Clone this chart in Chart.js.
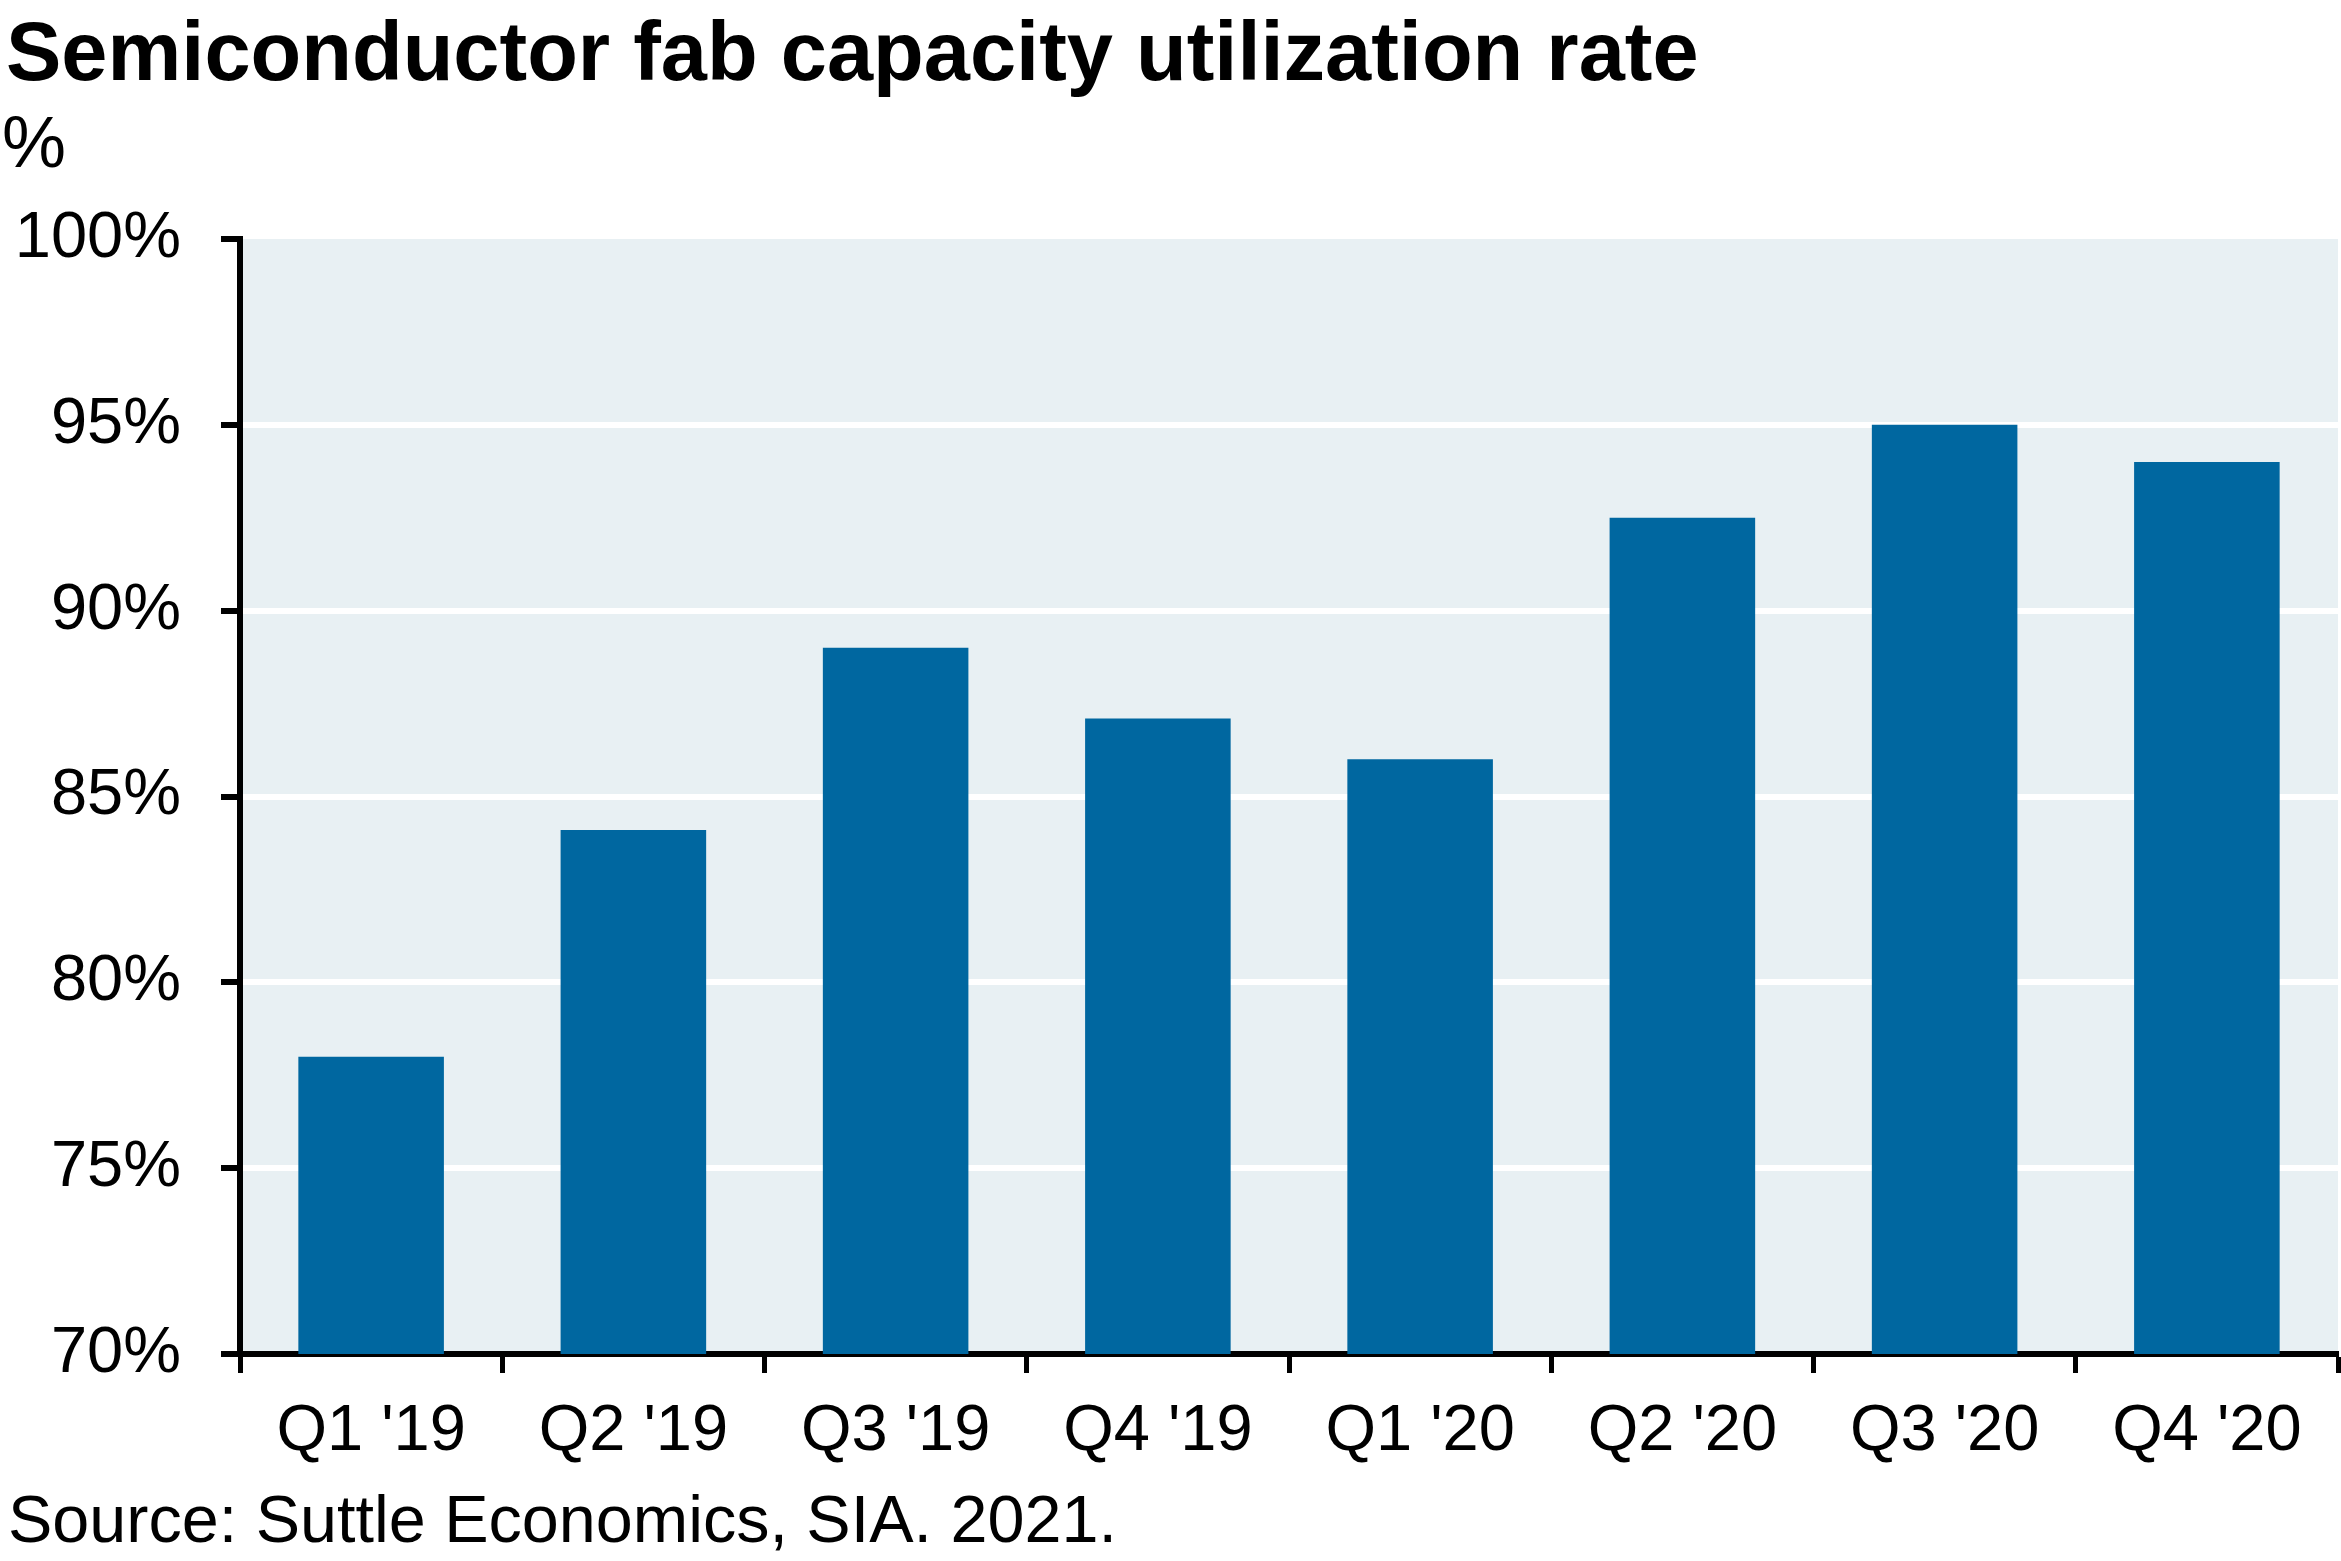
<!DOCTYPE html>
<html>
<head>
<meta charset="utf-8">
<script src="https://cdn.jsdelivr.net/npm/chart.js@4.4.1/dist/chart.umd.min.js"></script>
<style>
  html, body { margin: 0; padding: 0; background: #fff; }
  #wrap { width: 2341px; height: 1561px; }
</style>
</head>
<body>
<div id="wrap"><canvas id="fab_chart" width="2341" height="1561"></canvas></div>
<script>
const quarters = ["Q1 '19", "Q2 '19", "Q3 '19", "Q4 '19", "Q1 '20", "Q2 '20", "Q3 '20", "Q4 '20"];
const utilization = [78, 84.1, 89, 87.1, 86, 92.5, 95, 94];
const titleText = "Semiconductor fab capacity utilization rate";
const unitText = "%";
const sourceText = "Source: Suttle Economics, SIA. 2021.";

const FONT = "'Liberation Sans', Arial, Helvetica, sans-serif";

// light blue panel behind the bars
const panelBg = {
  id: 'panelBg',
  beforeDraw(chart) {
    const a = chart.chartArea;
    const c = chart.ctx;
    c.save();
    c.fillStyle = '#e8f0f3';
    c.fillRect(a.left, a.top, a.right - a.left, a.bottom - a.top);
    c.restore();
  }
};

// title, unit and source lines
const texts = {
  id: 'texts',
  afterDraw(chart) {
    const c = chart.ctx;
    c.save();
    c.fillStyle = '#000';
    c.textBaseline = 'alphabetic';
    c.textAlign = 'left';
    c.font = 'bold 83px ' + FONT;
    c.fillText(titleText, 6, 80);
    c.font = '72px ' + FONT;
    c.fillText(unitText, 2, 167);
    c.font = '66.5px ' + FONT;
    c.fillText(sourceText, 8, 1542);
    c.restore();
  }
};

const ctx = document.getElementById('fab_chart').getContext('2d');
const fab_chart = new Chart(ctx, {
  type: 'bar',
  data: {
    labels: quarters,
    datasets: [{
      data: utilization,
      backgroundColor: '#0067a0',
      borderWidth: 0,
      barPercentage: 0.555,
      categoryPercentage: 1
    }]
  },
  options: {
    responsive: false,
    animation: false,
    devicePixelRatio: 1,
    layout: { padding: { top: 239, right: 3, bottom: 0, left: 0 } },
    plugins: {
      legend: { display: false },
      tooltip: { enabled: false }
    },
    scales: {
      x: {
        afterFit(scale) { scale.height = 207; },
        grid: {
          offset: true,
          drawOnChartArea: false,
          drawTicks: true,
          tickLength: 19,
          tickColor: '#000',
          tickWidth: 5
        },
        border: { display: true, color: '#000', width: 6 },
        ticks: {
          color: '#000',
          font: { family: FONT, size: 65 },
          padding: 20,
          autoSkip: false,
          maxRotation: 0
        }
      },
      y: {
        min: 70,
        max: 100,
        afterFit(scale) { scale.width = 240; },
        grid: {
          color: function(c) { return (c.tick && c.tick.value === 100) ? 'rgba(0,0,0,0)' : '#ffffff'; },
          lineWidth: 6,
          drawTicks: true,
          tickLength: 19,
          tickColor: '#000',
          tickWidth: 6
        },
        border: { display: true, color: '#000', width: 6 },
        ticks: {
          stepSize: 5,
          color: '#000',
          font: { family: FONT, size: 65 },
          padding: 40,
          callback: function(v) { return v + '%'; }
        }
      }
    }
  },
  plugins: [panelBg, texts]
});
</script>
</body>
</html>
